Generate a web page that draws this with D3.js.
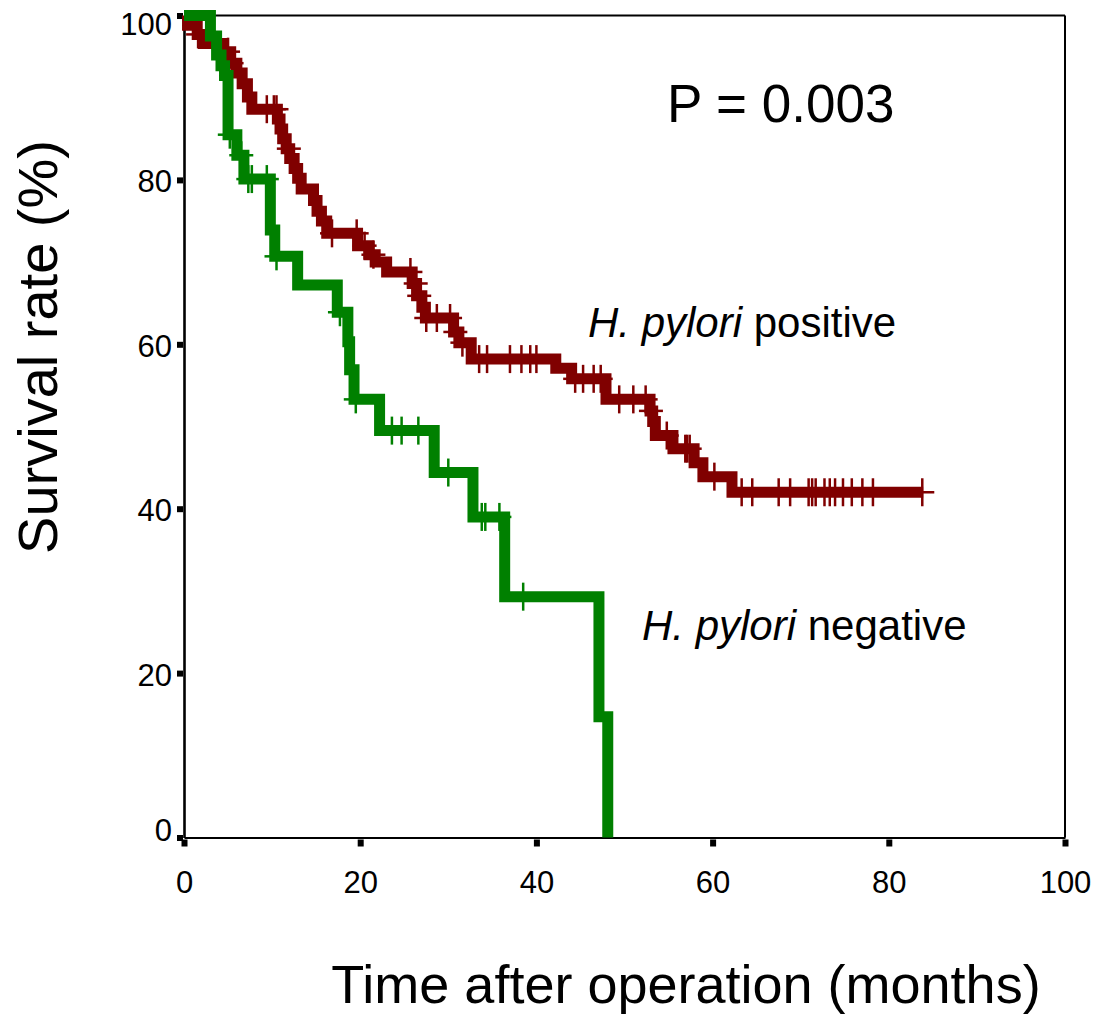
<!DOCTYPE html>
<html>
<head>
<meta charset="utf-8">
<script src="https://cdn.jsdelivr.net/npm/d3@7"></script>
<style>
  html, body { margin: 0; padding: 0; background: #fff; }
  svg { display: block; font-family: "Liberation Sans", Arial, sans-serif; }
</style>
</head>
<body>
<svg id="chart" width="1102" height="1018"></svg>
<script>
// ---------- data ----------
const xTicks = [0, 20, 40, 60, 80, 100];
const yTicks = [0, 20, 40, 60, 80, 100];

// H. pylori positive: step times (months) and survival (%) after each step
const posTimes = [0, 0.4, 1.5, 2.2, 4.4, 5.3, 6.0, 6.6, 7.2, 7.7,
  10.6, 10.9, 11.2, 11.6, 12.0, 12.5, 12.9, 13.3,
  14.7, 15.1, 15.6, 16.2,
  19.7, 21.0, 21.7, 23.0,
  25.9, 26.4, 27.0, 27.4,
  30.6, 31.2, 32.6,
  42.2, 44.0, 47.9,
  52.9, 53.2, 53.5, 55.5, 57.9, 58.9, 62.2, 83.9];
const posSurv = [100, 98.8, 97.7, 96.6, 95.6, 94.2, 93.0, 91.7, 90.1, 88.6,
  87.4, 86.2, 85.0, 83.8, 82.6, 81.4, 80.2, 78.9,
  77.5, 76.2, 75.0, 73.5,
  72.0, 70.9, 70.0, 68.8,
  67.4, 65.9, 64.5, 63.2,
  61.5, 60.2, 58.2,
  57.1, 55.8, 53.3,
  51.9, 50.6, 48.9, 47.3, 45.6, 43.9, 42.0, 42.0];
const posCensored = [1.6, 5.0, 5.4, 9.4, 10.2, 10.5, 11.9, 16.8, 19.6, 20.5, 21.5,
  25.7, 26.3, 26.7, 27.5, 28.7, 30.2, 30.8, 31.6, 33.5, 34.4, 37.0, 38.3, 39.3, 40.0,
  44.4, 45.3, 46.5, 47.3, 49.4, 51.0, 52.4, 53.0, 54.8, 56.9, 57.1, 57.4, 60.2,
  63.3, 64.5, 67.5, 68.8, 70.9, 71.3, 71.7, 72.7, 73.3, 73.9, 74.8, 75.8, 77.0, 78.2, 83.8];

// H. pylori negative
const negTimes = [0, 3.0, 3.7, 4.2, 4.6, 5.0, 6.0, 6.8, 9.8, 10.3, 12.9, 17.4,
  18.6, 18.8, 19.3, 22.2, 28.4, 32.8, 36.4, 47.1, 48.1];
const negSurv = [100, 97.5, 95.2, 93.9, 92.7, 85.5, 83.0, 80.1, 73.9, 70.7, 67.2, 63.9,
  60.3, 56.9, 53.3, 49.5, 44.4, 39.0, 29.3, 14.7, 0];
const negCensored = [5.2, 6.5, 7.3, 7.7, 9.4, 10.5, 17.7, 19.5, 23.6, 24.7, 26.6,
  30.0, 33.8, 34.2, 35.8, 38.5];

const groupNames = ["positive", "negative"];
const pText = "P = 0.003";
const xTitle = "Time after operation (months)";
const yTitle = "Survival rate (%)";

// ---------- drawing ----------
const svg = d3.select("#chart");
const x = d3.scaleLinear().domain([0, 100]).range([184, 1065]);
const y = d3.scaleLinear().domain([0, 100]).range([837.5, 15.5]);

const RED = "#800000", GREEN = "#008000";
const FONT = "Liberation Sans, Arial, sans-serif";

// frame (top and right)
svg.append("line").attr("x1", x(0)).attr("x2", x(100)).attr("y1", y(100)).attr("y2", y(100))
  .attr("stroke", "#000").attr("stroke-width", 2);
svg.append("line").attr("x1", x(100)).attr("x2", x(100)).attr("y1", y(100)).attr("y2", y(0))
  .attr("stroke", "#000").attr("stroke-width", 2);

// axes
const xAxis = d3.axisBottom(x).tickValues(xTicks).tickSize(0).tickPadding(0).tickFormat(d3.format("d"));
const gx = svg.append("g").attr("transform", `translate(0,${y(0)})`).call(xAxis);
gx.select(".domain").attr("stroke", "#000").attr("stroke-width", 2.2);
gx.selectAll(".tick text").attr("font-size", 31).attr("fill", "#000")
  .attr("font-family", FONT)
  .attr("y", 55).attr("dy", 0);
gx.selectAll(".tick").append("rect").attr("x", -3).attr("y", 2).attr("width", 6).attr("height", 7).attr("fill", "#000");

const yAxis = d3.axisLeft(y).tickValues(yTicks).tickSize(0).tickPadding(0).tickFormat(d3.format("d"));
const gy = svg.append("g").attr("transform", `translate(${x(0)},0)`).call(yAxis);
gy.select(".domain").attr("stroke", "#000").attr("stroke-width", 2.6);
gy.selectAll(".tick text").attr("font-size", 31).attr("fill", "#000")
  .attr("font-family", FONT)
  .attr("x", -12).attr("dy", 0)
  .attr("y", d => d === 100 ? 19 : (d === 0 ? 2.5 : 12));
gy.selectAll(".tick").append("rect").attr("x", -7).attr("y", -3).attr("width", 6).attr("height", 6).attr("fill", "#000");

// step function helper
function survAt(times, surv, t) {
  let s = surv[0];
  for (let i = 0; i < times.length; i++) { if (times[i] <= t) s = surv[i]; }
  return s;
}

const stepLine = d3.line().x(d => x(d[0])).y(d => y(d[1])).curve(d3.curveStepAfter);

function drawGroup(times, surv, cens, color) {
  const pts = times.map((t, i) => [t, surv[i]]);
  svg.append("path").datum(pts).attr("d", stepLine)
    .attr("fill", "none").attr("stroke", color).attr("stroke-width", 11)
    .attr("stroke-linejoin", "miter").attr("stroke-linecap", "butt");
  const g = svg.append("g").attr("stroke", color).attr("stroke-width", 2.5);
  cens.forEach(t => {
    const cx = x(t), cy = y(survAt(times, surv, t));
    g.append("line").attr("x1", cx).attr("x2", cx).attr("y1", cy - 14).attr("y2", cy + 14);
    g.append("line").attr("x1", cx - 12).attr("x2", cx + 12).attr("y1", cy).attr("y2", cy);
  });
}

drawGroup(posTimes, posSurv, posCensored, RED);
drawGroup(negTimes, negSurv, negCensored, GREEN);

// annotations
svg.append("text").attr("x", 667).attr("y", 122).attr("font-size", 53).attr("fill", "#000").text(pText);

const t1 = svg.append("text").attr("x", 588).attr("y", 337).attr("font-size", 42).attr("fill", "#000");
t1.append("tspan").attr("font-style", "italic").text("H. pylori");
t1.append("tspan").text(" " + groupNames[0]);

const t2 = svg.append("text").attr("x", 642).attr("y", 640).attr("font-size", 42).attr("fill", "#000");
t2.append("tspan").attr("font-style", "italic").text("H. pylori");
t2.append("tspan").text(" " + groupNames[1]);

// axis titles
svg.append("text").attr("x", 686).attr("y", 1003).attr("text-anchor", "middle")
  .attr("font-size", 54).attr("fill", "#000").text(xTitle);
svg.append("text").attr("transform", "translate(57,347) rotate(-90)").attr("text-anchor", "middle")
  .attr("font-size", 56).attr("fill", "#000").text(yTitle);
</script>
</body>
</html>
